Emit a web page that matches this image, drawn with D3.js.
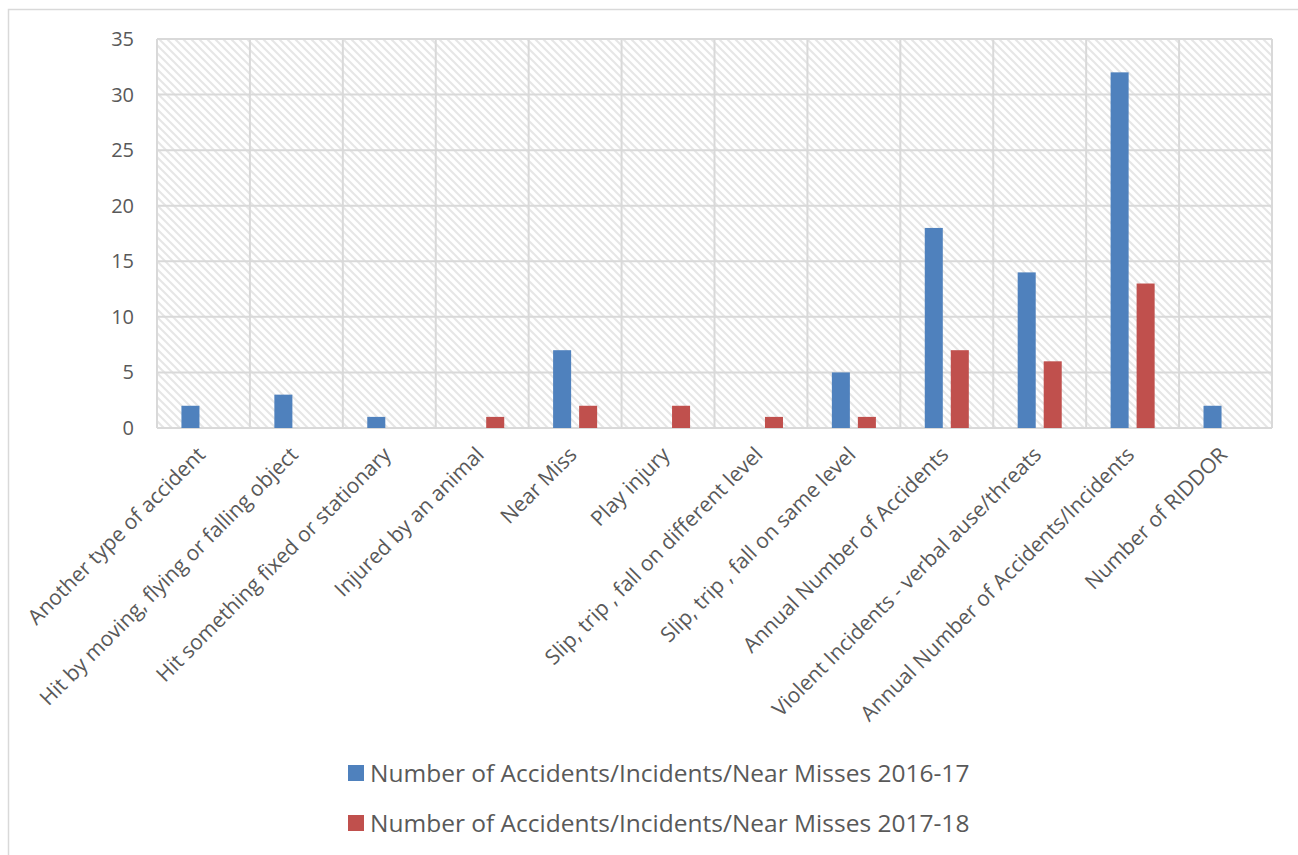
<!DOCTYPE html>
<html>
<head>
<meta charset="utf-8">
<script src="https://cdn.jsdelivr.net/npm/d3@7"></script>
<style>
	body { margin: 0; background: #fff; }
	text { font-family: "Open Sans", sans-serif; fill: #595959; }
</style>
</head>
<body>
<div id="chart"></div>
<script>
const categories = [
	"Another type of accident",
	"Hit by moving, flying or falling object",
	"Hit something fixed or stationary",
	"Injured by an animal",
	"Near Miss",
	"Play injury",
	"Slip, trip , fall on different level",
	"Slip, trip , fall on same level",
	"Annual Number of Accidents",
	"Violent Incidents - verbal ause/threats",
	"Annual Number of Accidents/Incidents",
	"Number of RIDDOR"
];
const values2016 = [2, 3, 1, 0, 7, 0, 0, 5, 18, 14, 32, 2];
const values2017 = [0, 0, 0, 1, 2, 2, 1, 1, 7, 6, 13, 0];
const seriesNames = [
	"Number of Accidents/Incidents/Near Misses 2016-17",
	"Number of Accidents/Incidents/Near Misses 2017-18"
];
const seriesColors = ["#4f81bd", "#c0504d"];
const yTicks = [0, 5, 10, 15, 20, 25, 30, 35];

const W = 1298, H = 855;
const margin = { left: 157, right: 26, top: 39, bottom: 428 };

let svg = d3.select("#chart").append("svg")
	.attr("width", W)
	.attr("height", H);

// outer chart frame
svg.append("rect")
	.attr("x", 8.5).attr("y", 9.5)
	.attr("width", W + 20).attr("height", H + 20)
	.attr("fill", "white")
	.attr("stroke", "#d9d9d9")
	.attr("stroke-width", 1.5);

// hatch fill for plot area
let defs = svg.append("defs");
let pat = defs.append("pattern")
	.attr("id", "hatch")
	.attr("patternUnits", "userSpaceOnUse")
	.attr("width", 8).attr("height", 8);
pat.append("rect").attr("width", 8).attr("height", 8).attr("fill", "white");
pat.append("path")
	.attr("d", "M-2,-2 L10,10 M-2,6 L2,10 M6,-2 L10,2")
	.attr("stroke", "#e6e6e6")
	.attr("stroke-width", 2);

let x = d3.scaleBand()
	.domain(categories)
	.range([margin.left, W - margin.right])
	.padding(0);

let y = d3.scaleLinear()
	.domain([0, 35])
	.range([margin.bottom, margin.top]);

let g = svg.append("g");

g.append("rect")
	.attr("x", x.range()[0]).attr("y", y(35))
	.attr("width", x.range()[1] - x.range()[0])
	.attr("height", y(0) - y(35))
	.attr("fill", "url(#hatch)");

// horizontal gridlines
g.selectAll(".hgrid")
	.data(yTicks)
	.enter().append("line")
	.attr("x1", x.range()[0]).attr("x2", x.range()[1])
	.attr("y1", (d) => y(d)).attr("y2", (d) => y(d))
	.attr("stroke", "#d9d9d9")
	.attr("stroke-width", 2);

// vertical gridlines at category boundaries
let bounds = categories.map((c) => x(c)).concat([x.range()[1]]);
g.selectAll(".vgrid")
	.data(bounds)
	.enter().append("line")
	.attr("x1", (d) => d).attr("x2", (d) => d)
	.attr("y1", y(35)).attr("y2", y(0))
	.attr("stroke", "#d9d9d9")
	.attr("stroke-width", 2);

// y tick labels
g.selectAll(".ytick")
	.data(yTicks)
	.enter().append("text")
	.attr("x", 134)
	.attr("y", (d) => y(d))
	.attr("dy", "0.35em")
	.attr("text-anchor", "end")
	.style("font-size", "20px")
	.text((d) => d);

// bars
let barW = x.bandwidth() * 0.194;
let gap = x.bandwidth() * 0.086;
let offsets = [-gap / 2 - barW, gap / 2];
let series = [values2016, values2017];

series.forEach((vals, si) => {
	g.selectAll(".bar" + si)
		.data(vals.map((v, i) => ({ cat: categories[i], v: v })).filter((d) => d.v > 0))
		.enter().append("rect")
		.attr("x", (d) => x(d.cat) + x.bandwidth() / 2 + offsets[si])
		.attr("y", (d) => y(d.v))
		.attr("width", barW)
		.attr("height", (d) => y(0) - y(d.v))
		.attr("fill", seriesColors[si]);
});

// category labels, rotated
g.selectAll(".xlab")
	.data(categories)
	.enter().append("text")
	.attr("transform", (d) => "translate(" + (x(d) + x.bandwidth() / 2 + 3) + "," + 456 + ") rotate(-45)")
	.attr("text-anchor", "end")
	.style("font-size", "21px")
	.text((d) => d);

// legend
let legend = svg.append("g");
seriesNames.forEach((name, i) => {
	let ly = 773 + i * 50;
	legend.append("rect")
		.attr("x", 348).attr("y", ly - 8)
		.attr("width", 16).attr("height", 16)
		.attr("fill", seriesColors[i]);
	legend.append("text")
		.attr("x", 370).attr("y", ly)
		.attr("dy", "0.35em")
		.style("font-size", "24.5px")
		.text(name);
});
</script>
</body>
</html>
